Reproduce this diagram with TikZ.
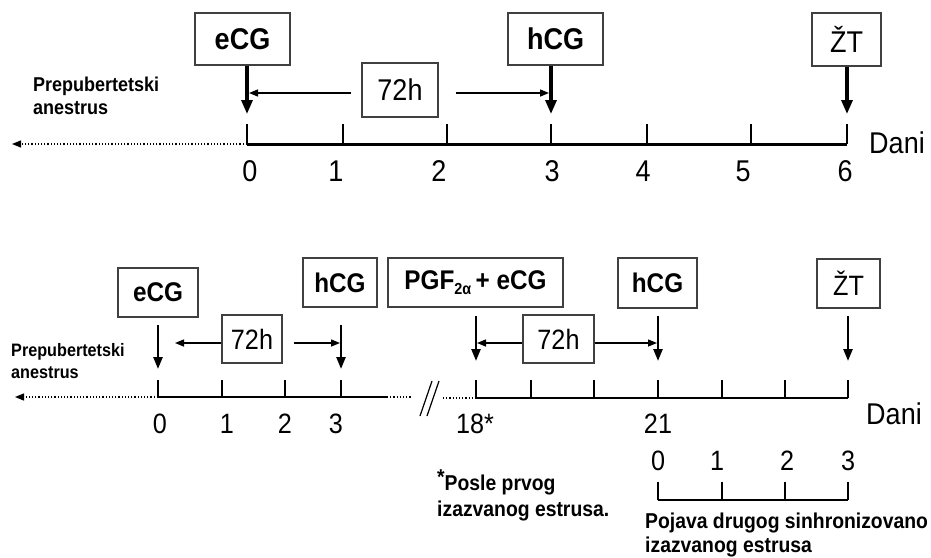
\documentclass[tikz,border=0pt]{standalone}
\usepackage{fontspec}
\setmainfont[FakeStretch=0.9]{Liberation Sans}
\usetikzlibrary{arrows.meta}
\begin{document}
\begin{tikzpicture}[x=1pt,y=-1pt,
  box/.style={draw=black!75, line width=1.3pt, inner sep=0pt},
  bigtxt/.style={font=\fontsize{30}{30}\selectfont},
  midtxt/.style={font=\fontsize{28}{28}\selectfont},
  bigbold/.style={font=\fontsize{30}{30}\selectfont\bfseries},
  midbold/.style={font=\fontsize{27}{27}\selectfont\bfseries},
  note/.style={font=\fontsize{20}{23}\selectfont\bfseries, align=left, inner sep=0pt},
  num/.style={inner sep=0pt},
  axis/.style={line width=3pt},
  axisb/.style={line width=2.5pt},
  tickmark/.style={line width=2pt},
  dots/.style={line width=1.2pt, dotted},
  dotarrow/.style={line width=1.2pt, dotted, -{Triangle[length=9pt,width=7pt]}},
  downarrow/.style={line width=3.2pt, -{Triangle[length=14pt,width=11pt]}},
  downarrowb/.style={line width=2.4pt, -{Triangle[length=12pt,width=9pt]}},
  span/.style={line width=1.4pt, -{Triangle[length=9pt,width=7pt]}},
  slash/.style={line width=1.2pt}
]
\useasboundingbox (0,0) rectangle (931,557);

% ---------- upper timeline ----------
\foreach \n/\x in {0/247,1/343,2/447,3/551,4/647,5/751,6/847}{
  \coordinate (a\n) at (\x,144);
  \draw[tickmark] (a\n) -- ++(0,-20);
}
\draw[axis] (a0) -- (a6);
\coordinate (aL) at (12,144);
\draw[dotarrow] (a0) -- (aL);

\foreach \t/\x in {0/250,1/336,2/439,3/552,4/643,5/743,6/845}
  \node[num, bigtxt] (na\t) at (\x,171) {\t};
\node[num, bigtxt] (daniA) at (897,143) {Dani};

\node[box, bigbold, minimum width=95pt, minimum height=52pt] (eCGa) at (242.5,39) {eCG};
\node[box, bigbold, minimum width=95pt, minimum height=52pt] (hCGa) at (555.5,39) {hCG};
\node[box, bigtxt, minimum width=69pt, minimum height=53pt] (ZTa) at (846.5,39.5) {ŽT};
\node[box, bigtxt, minimum width=76pt, minimum height=54pt] (hA) at (400,90) {72h};

\coordinate (ta0) at (247,114);
\coordinate (ta3) at (551,114);
\coordinate (ta6) at (847,114);
\draw[downarrow] (eCGa.south -| ta0) -- (ta0);
\draw[downarrow] (hCGa.south -| ta3) -- (ta3);
\draw[downarrow] (ZTa.south -| ta6) -- (ta6);

\coordinate (sa0) at (249,93);
\coordinate (sa3) at (549,93);
\draw[span] (hA.west |- sa0) ++(-10,0) -- (sa0);
\draw[span] (hA.east |- sa3) ++(17,0) -- (sa3);

\node[note, anchor=north west] (anA) at (33,77) {Prepubertetski\\anestrus};

% ---------- lower timeline ----------
\foreach \n/\x in {0/158,1/222,2/285,3/341}{
  \coordinate (b\n) at (\x,397);
  \draw[tickmark] (b\n) -- ++(0,-17);
}
\coordinate (bE) at (387,397);
\coordinate (bD) at (412,397);
\draw[axisb] (b0) -- (bE);
\draw[dots] (bE) -- (bD);
\coordinate (bL) at (15,397);
\draw[dotarrow] (b0) -- (bL);

% break marks
\coordinate (s1t) at (432,381); \coordinate (s1b) at (420,416);
\coordinate (s2t) at (439,381); \coordinate (s2b) at (427,416);
\draw[slash] (s1t) -- (s1b);
\draw[slash] (s2t) -- (s2b);

\foreach \n/\x in {0/476,1/531,2/594,3/658,4/722,5/785,6/848}{
  \coordinate (c\n) at (\x,398);
  \draw[tickmark] (c\n) -- ++(0,-18);
}
\coordinate (cS) at (443,398);
\draw[dots] (cS) -- (c0);
\draw[axisb] (c0) -- (c6);

\foreach \t/\x in {0/160,1/227,2/285,3/336}
  \node[num, midtxt] (nb\t) at (\x,424) {\t};
\node[num, midtxt, anchor=west] (n18) at (456,424) {18*};
\node[num, midtxt] (n21) at (658,424) {21};
\node[num, bigtxt] (daniB) at (894,414) {Dani};

\node[box, midbold, minimum width=80pt, minimum height=49pt] (eCGb) at (158,292.5) {eCG};
\node[box, midbold, minimum width=74pt, minimum height=49pt] (hCGb) at (340,282.5) {hCG};
\node[box, midbold, minimum width=175pt, minimum height=49pt] (PGF) at (475.5,282.5)
  {PGF\raisebox{-5pt}{\fontsize{16}{16}\selectfont 2α}\,+ eCG};
\node[box, midbold, minimum width=79pt, minimum height=50pt] (hCGc) at (657.5,283) {hCG};
\node[box, midtxt, minimum width=63pt, minimum height=49pt] (ZTb) at (848.5,283.5) {ŽT};
\node[box, midtxt, minimum width=60pt, minimum height=48pt] (hB) at (252,339) {72h};
\node[box, midtxt, minimum width=71pt, minimum height=48pt] (hC) at (558.5,339) {72h};

\coordinate (tb0) at (158,369);
\coordinate (tb3) at (341,369);
\coordinate (tc0) at (476,361);
\coordinate (tc3) at (658,361);
\coordinate (tc6) at (848,361);
\coordinate (ub0) at (158,325);
\coordinate (ub3) at (341,325);
\draw[downarrowb] (ub0) -- (tb0);
\draw[downarrowb] (ub3) -- (tb3);
\draw[downarrowb] (PGF.south -| tc0) ++(0,8) -- (tc0);
\draw[downarrowb] (hCGc.south -| tc3) ++(0,7) -- (tc3);
\draw[downarrowb] (ZTb.south -| tc6) ++(0,7) -- (tc6);

\coordinate (sb0) at (175,343);
\coordinate (sb3) at (340,343);
\coordinate (sc0) at (477,343);
\coordinate (sc3) at (657,343);
\draw[span] (hB.west |- sb0) -- (sb0);
\draw[span] (hB.east |- sb3) ++(11,0) -- (sb3);
\draw[span] (hC.west |- sc0) -- (sc0);
\draw[span] (hC.east |- sc3) -- (sc3);

\node[note, font=\fontsize{18}{22}\selectfont\bfseries, anchor=north west] (anB) at (11,343)
  {Prepubertetski\\anestrus};

% second oestrus scale
\foreach \n/\x in {0/658,1/722,2/785,3/848}{
  \coordinate (d\n) at (\x,500);
  \draw[tickmark] (d\n) -- ++(0,-18);
}
\draw[tickmark] (d0) -- (d3);
\foreach \t/\x in {0/658,1/717,2/787,3/848}
  \node[num, midtxt] (nd\t) at (\x,461) {\t};

\node[note, font=\fontsize{21.5}{26}\selectfont\bfseries, anchor=north west] (fn) at (437,469)
  {\raisebox{6pt}{*}Posle prvog\\izazvanog estrusa.};
\node[note, font=\fontsize{21.5}{24}\selectfont\bfseries, anchor=north west] (oe) at (645,513)
  {Pojava drugog sinhronizovano\\izazvanog estrusa};
\end{tikzpicture}
\end{document}
